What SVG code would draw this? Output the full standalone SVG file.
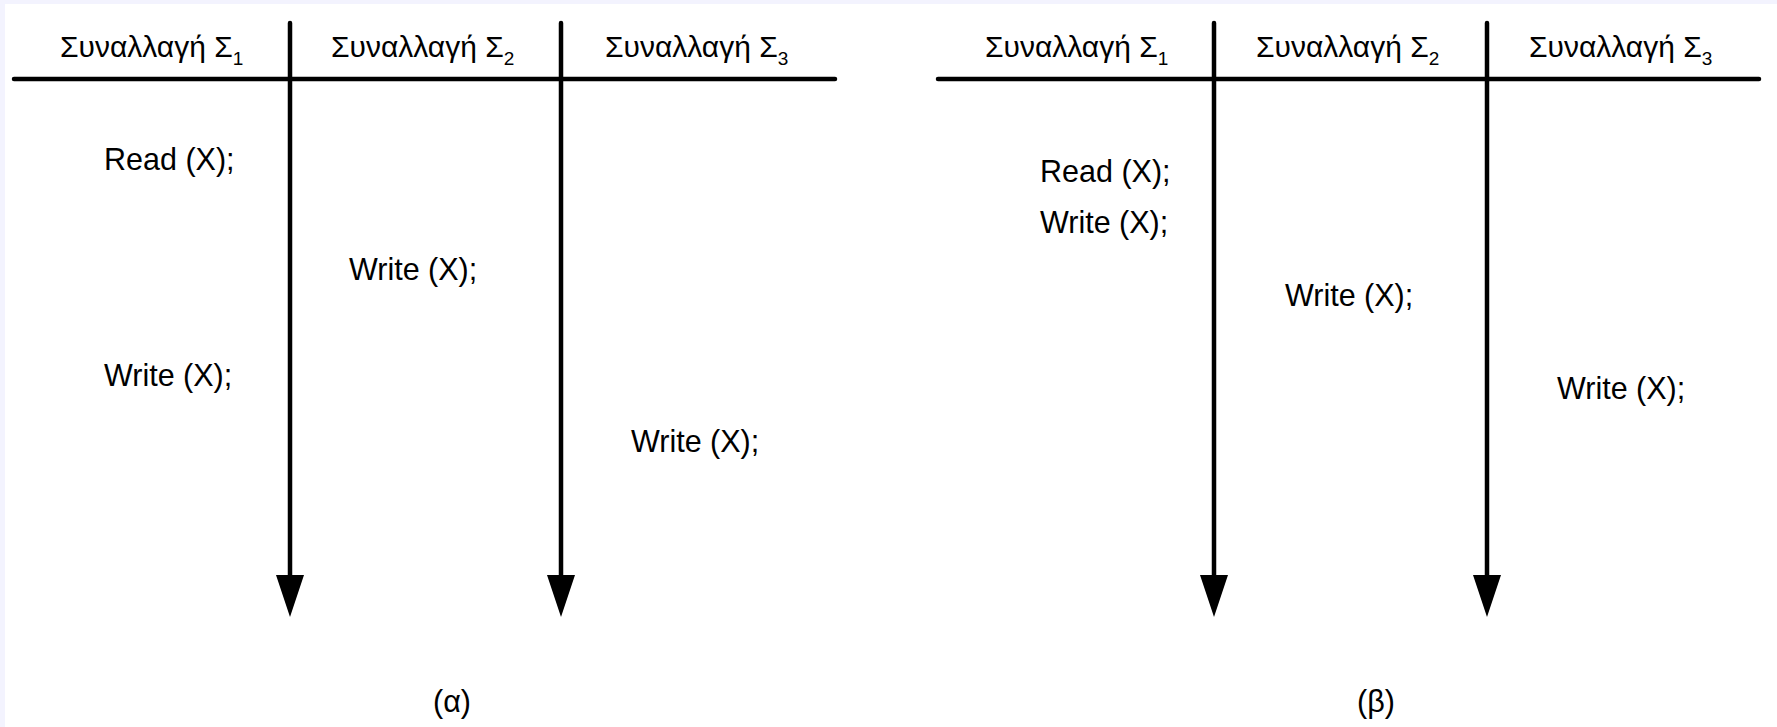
<svg xmlns="http://www.w3.org/2000/svg" width="1777" height="727" viewBox="0 0 1777 727">
  <defs>
    <style>
      .txt { font-family: "Liberation Sans", Arial, sans-serif; font-size: 30.5px; fill: #000; }
      .hdr { font-size: 30px; }
      .sub { font-size: 19px; }
      .rule { stroke: #000; stroke-width: 4.5; stroke-linecap: round; fill: none; }
      .head { fill: #000; stroke: none; }
    </style>
    <!-- time axis: vertical shaft ending in a solid downward head -->
    <g id="axis">
      <line class="rule" x1="0" y1="23" x2="0" y2="578"/>
      <polygon class="head" points="-14,575 14,575 0,617"/>
    </g>
  </defs>

  <!-- page background with thin tinted top/left margin -->
  <rect x="0" y="0" width="1777" height="727" fill="#f3f3fe"/>
  <rect x="5" y="4" width="1772" height="723" fill="#ffffff"/>

  <!-- ===== schedule (α) ===== -->
  <g id="schedule-a">
    <g id="a-connectors">
      <line class="rule" x1="14" y1="79" x2="835" y2="79"/>
      <use href="#axis" x="290"/>
      <use href="#axis" x="561"/>
    </g>
    <g id="a-headers">
      <text class="txt hdr" x="60" y="57">Συναλλαγή Σ<tspan class="sub" dy="8">1</tspan></text>
      <text class="txt hdr" x="331" y="57">Συναλλαγή Σ<tspan class="sub" dy="8">2</tspan></text>
      <text class="txt hdr" x="605" y="57">Συναλλαγή Σ<tspan class="sub" dy="8">3</tspan></text>
    </g>
    <g id="a-t1-read"><text class="txt" x="104" y="170">Read (X);</text></g>
    <g id="a-t2-write"><text class="txt" x="349" y="280">Write (X);</text></g>
    <g id="a-t1-write"><text class="txt" x="104" y="386">Write (X);</text></g>
    <g id="a-t3-write"><text class="txt" x="631" y="452">Write (X);</text></g>
    <g id="a-caption"><text class="txt" x="452" y="712" text-anchor="middle">(α)</text></g>
  </g>

  <!-- ===== schedule (β) ===== -->
  <g id="schedule-b">
    <g id="b-connectors">
      <line class="rule" x1="938" y1="79" x2="1759" y2="79"/>
      <use href="#axis" x="1214"/>
      <use href="#axis" x="1487"/>
    </g>
    <g id="b-headers">
      <text class="txt hdr" x="985" y="57">Συναλλαγή Σ<tspan class="sub" dy="8">1</tspan></text>
      <text class="txt hdr" x="1256" y="57">Συναλλαγή Σ<tspan class="sub" dy="8">2</tspan></text>
      <text class="txt hdr" x="1529" y="57">Συναλλαγή Σ<tspan class="sub" dy="8">3</tspan></text>
    </g>
    <g id="b-t1-read"><text class="txt" x="1040" y="182">Read (X);</text></g>
    <g id="b-t1-write"><text class="txt" x="1040" y="233">Write (X);</text></g>
    <g id="b-t2-write"><text class="txt" x="1285" y="306">Write (X);</text></g>
    <g id="b-t3-write"><text class="txt" x="1557" y="399">Write (X);</text></g>
    <g id="b-caption"><text class="txt" x="1376" y="712" text-anchor="middle">(β)</text></g>
  </g>
</svg>
